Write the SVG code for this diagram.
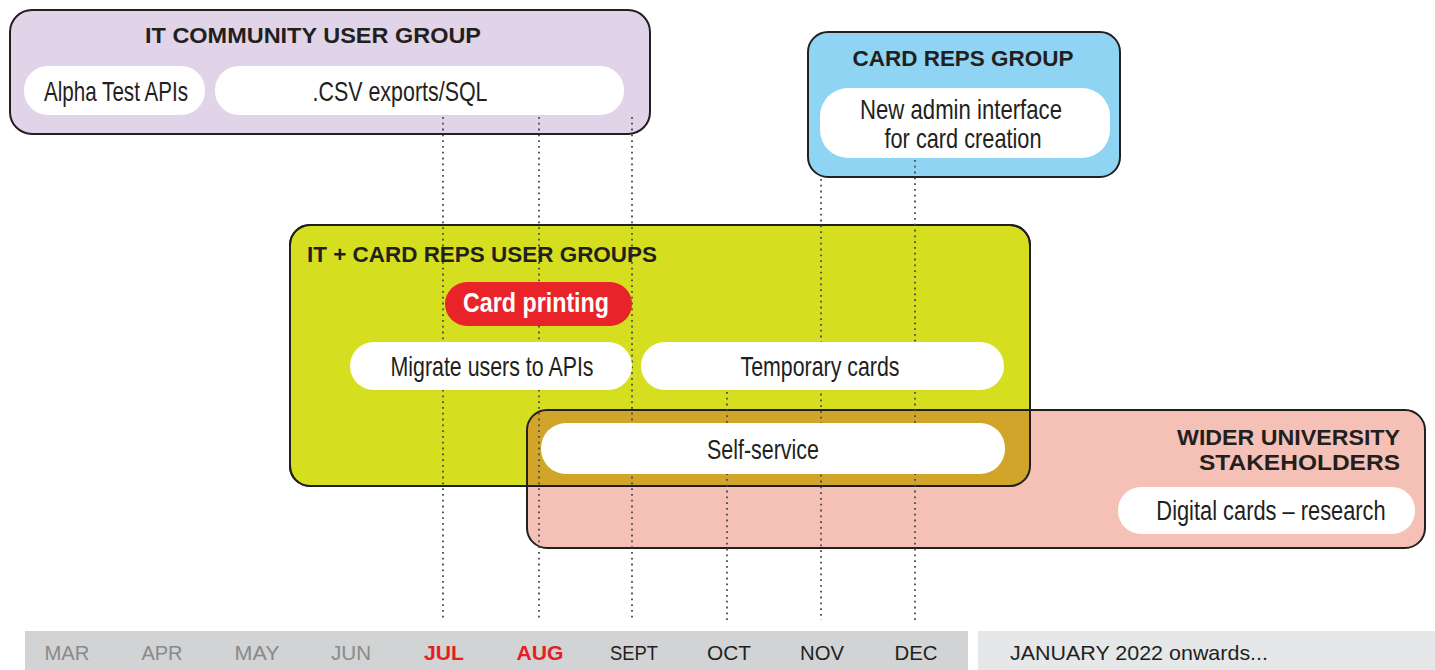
<svg xmlns="http://www.w3.org/2000/svg" width="1435" height="670" viewBox="0 0 1435 670">
<style>
.grp{stroke:#231f20;stroke-width:2}
.pill{fill:#ffffff}
.title{font-family:"Liberation Sans",Arial,sans-serif;font-weight:bold;font-size:22px;fill:#231f20}
.lbl{font-family:"Liberation Sans Narrow","Liberation Sans",Arial,sans-serif;font-size:28px;fill:#231f20}
.dot{stroke:#4a4a4a;stroke-width:1.8;stroke-dasharray:1.8 4;fill:none}
.mon{font-family:"Liberation Sans",Arial,sans-serif;font-size:21px;text-anchor:middle}
</style>
<defs>
<clipPath id="pinkClip"><rect x="527" y="410" width="898" height="138" rx="20"/></clipPath>
</defs>
<rect width="1435" height="670" fill="#ffffff"/>

<g id="timeline">
<rect x="25" y="631" width="943" height="39" fill="#d1d3d4"/>
<rect x="978" y="631" width="457" height="39" fill="#e6e7e8"/>
<text class="mon" x="67" y="660" fill="#8a8a8a" textLength="45" lengthAdjust="spacingAndGlyphs">MAR</text>
<text class="mon" x="162" y="660" fill="#8a8a8a" textLength="41" lengthAdjust="spacingAndGlyphs">APR</text>
<text class="mon" x="257" y="660" fill="#8a8a8a" textLength="45" lengthAdjust="spacingAndGlyphs">MAY</text>
<text class="mon" x="351" y="660" fill="#8a8a8a" textLength="40" lengthAdjust="spacingAndGlyphs">JUN</text>
<text class="mon" x="444" y="660" fill="#e31e24" font-weight="bold" textLength="40" lengthAdjust="spacingAndGlyphs">JUL</text>
<text class="mon" x="540" y="660" fill="#e31e24" font-weight="bold" textLength="47" lengthAdjust="spacingAndGlyphs">AUG</text>
<text class="mon" x="634" y="660" fill="#231f20" textLength="48" lengthAdjust="spacingAndGlyphs">SEPT</text>
<text class="mon" x="729" y="660" fill="#231f20" textLength="44" lengthAdjust="spacingAndGlyphs">OCT</text>
<text class="mon" x="822" y="660" fill="#231f20" textLength="44" lengthAdjust="spacingAndGlyphs">NOV</text>
<text class="mon" x="916" y="660" fill="#231f20" textLength="43" lengthAdjust="spacingAndGlyphs">DEC</text>
<text x="1010" y="660" font-family="'Liberation Sans',Arial,sans-serif" font-size="21" fill="#231f20" textLength="258" lengthAdjust="spacingAndGlyphs">JANUARY 2022 onwards...</text>
</g>

<g id="it-card-reps-group">
<rect class="grp" x="290" y="225" width="740" height="261" rx="20" fill="#d5df1f"/>
</g>
<g id="wider-university-group">
<rect x="527" y="410" width="898" height="138" rx="20" fill="#f5c0b6"/>
<rect x="290" y="225" width="740" height="261" rx="20" fill="#d1a52a" clip-path="url(#pinkClip)"/>
<rect class="grp" x="290" y="225" width="740" height="261" rx="20" fill="none"/>
<rect class="grp" x="527" y="410" width="898" height="138" rx="20" fill="none"/>
</g>

<g id="it-community-group">
<rect class="grp" x="10" y="10" width="640" height="124" rx="22" fill="#e1d4e9"/>
<text class="title" x="313" y="43" text-anchor="middle" textLength="336" lengthAdjust="spacingAndGlyphs">IT COMMUNITY USER GROUP</text>
</g>

<g id="card-reps-group">
<rect class="grp" x="808" y="32" width="312" height="145" rx="20" fill="#8fd4f2"/>
<text class="title" x="963" y="66" text-anchor="middle" textLength="221" lengthAdjust="spacingAndGlyphs">CARD REPS GROUP</text>
</g>

<g id="connectors">
<line class="dot" x1="443" y1="117" x2="443" y2="620"/>
<line class="dot" x1="539" y1="117" x2="539" y2="620"/>
<line class="dot" x1="632" y1="117" x2="632" y2="620"/>
<line class="dot" x1="727" y1="392" x2="727" y2="620"/>
<line class="dot" x1="821" y1="179" x2="821" y2="620"/>
<line class="dot" x1="915" y1="160" x2="915" y2="620"/>
</g>

<g id="node-alpha">
<rect class="pill" x="24" y="66" width="181" height="49" rx="24"/>
<text class="lbl" x="116" y="101" text-anchor="middle" textLength="144" lengthAdjust="spacingAndGlyphs">Alpha Test APIs</text>
</g>
<g id="node-csv">
<rect class="pill" x="215" y="66" width="409" height="49" rx="24"/>
<text class="lbl" x="400" y="101" text-anchor="middle" textLength="175" lengthAdjust="spacingAndGlyphs">.CSV exports/SQL</text>
</g>
<g id="node-admin">
<rect class="pill" x="820" y="88" width="290" height="70" rx="28"/>
<text class="lbl" x="961" y="119" text-anchor="middle" textLength="202" lengthAdjust="spacingAndGlyphs">New admin interface</text>
<text class="lbl" x="963" y="148" text-anchor="middle" textLength="157" lengthAdjust="spacingAndGlyphs">for card creation</text>
</g>

<g id="it-card-title">
<text class="title" x="307" y="262" textLength="350" lengthAdjust="spacingAndGlyphs">IT + CARD REPS USER GROUPS</text>
</g>
<g id="node-card-printing">
<rect x="445" y="282" width="187" height="44" rx="22" fill="#e8232a"/>
<text class="lbl" x="536" y="312" text-anchor="middle" font-weight="bold" font-size="25" style="fill:#ffffff" textLength="146" lengthAdjust="spacingAndGlyphs">Card printing</text>
</g>
<g id="node-migrate">
<rect class="pill" x="350" y="342" width="282" height="48" rx="24"/>
<text class="lbl" x="492" y="376" text-anchor="middle" textLength="203" lengthAdjust="spacingAndGlyphs">Migrate users to APIs</text>
</g>
<g id="node-temporary">
<rect class="pill" x="641" y="342" width="363" height="48" rx="24"/>
<text class="lbl" x="820" y="376" text-anchor="middle" textLength="159" lengthAdjust="spacingAndGlyphs">Temporary cards</text>
</g>
<g id="node-self-service">
<rect class="pill" x="541" y="423" width="464" height="51" rx="25"/>
<text class="lbl" x="763" y="459" text-anchor="middle" textLength="112" lengthAdjust="spacingAndGlyphs">Self-service</text>
</g>

<g id="wider-title">
<text class="title" x="1400" y="445" text-anchor="end" textLength="223" lengthAdjust="spacingAndGlyphs">WIDER UNIVERSITY</text>
<text class="title" x="1400" y="470" text-anchor="end" textLength="201" lengthAdjust="spacingAndGlyphs">STAKEHOLDERS</text>
</g>
<g id="node-digital">
<rect class="pill" x="1118" y="487" width="297" height="47" rx="23"/>
<text class="lbl" transform="translate(1271 520) scale(0.78 1)" x="0" y="0" text-anchor="middle" font-size="27">Digital cards – research</text>
</g>
</svg>
